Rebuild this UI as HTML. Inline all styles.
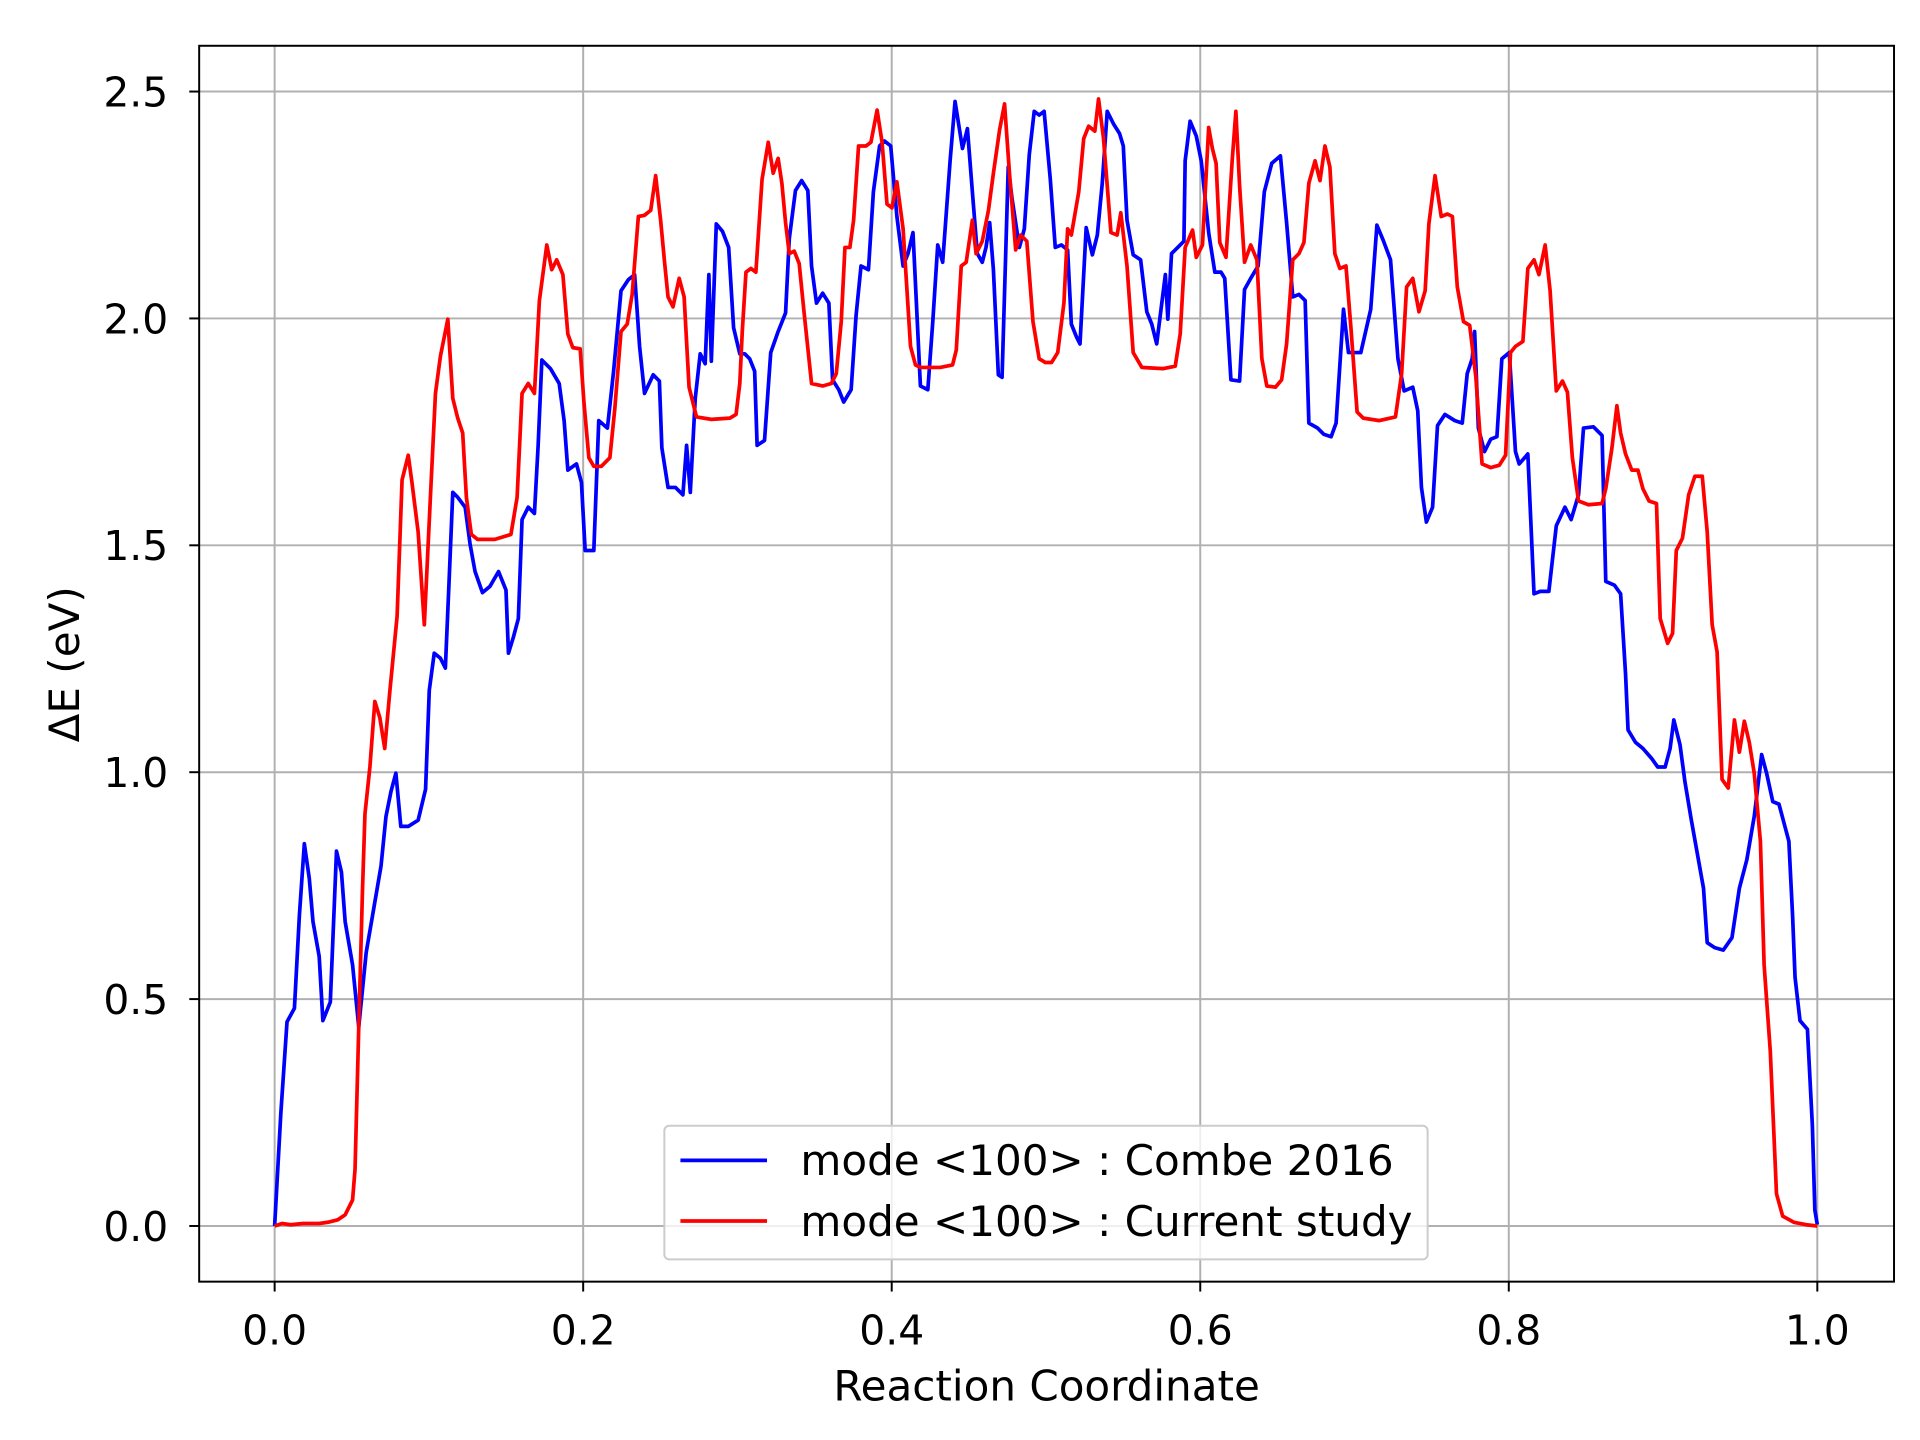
<!DOCTYPE html>
<html><head><meta charset="utf-8"><style>html,body{margin:0;padding:0;background:#fff}svg{display:block}</style></head>
<body>
<svg width="1920" height="1440" viewBox="0 0 1552 1164" xmlns="http://www.w3.org/2000/svg" font-family="DejaVu Sans, Liberation Sans, sans-serif">
<rect width="1552" height="1164" fill="#fff"/>
<g stroke="#b0b0b0" stroke-width="1.6">
<line x1="222" y1="37" x2="222" y2="1036"/><line x1="471.4" y1="37" x2="471.4" y2="1036"/><line x1="720.8" y1="37" x2="720.8" y2="1036"/><line x1="970.2" y1="37" x2="970.2" y2="1036"/><line x1="1219.6" y1="37" x2="1219.6" y2="1036"/><line x1="1469" y1="37" x2="1469" y2="1036"/>
<line x1="161" y1="991" x2="1531" y2="991"/><line x1="161" y1="807.6" x2="1531" y2="807.6"/><line x1="161" y1="624.2" x2="1531" y2="624.2"/><line x1="161" y1="440.8" x2="1531" y2="440.8"/><line x1="161" y1="257.4" x2="1531" y2="257.4"/><line x1="161" y1="74" x2="1531" y2="74"/>
</g>
<g fill="none" stroke-width="3" stroke-linejoin="round">
<polyline stroke="#0000ff" points="222,991 227,900 232,826 238,815 242,740 246,682 250,710 253,745 258,773 261,825 267,810 272,688 276,705 279,745 285,780 290,830 296,770 302,735 308,700 312,660 316,640 320,625 324,668 330,668 338,663 344,638 347,558 351,528 356,532 360,540 363,470 366,398 370,402 376,410 380,440 384,462 390,479 396,474 403,462 409,477 411,528 415,515 419,500 422,420 427,410 432,415 435,360 438,291 445,298 452,310 456,340 459,380 466,375 470,390 473,445 480,445 484,340 491,346 496,300 502,235 508,226 513,222 517,280 521,318 528,303 533,308 535,362 540,394 546,394 552,400 555,360 558,398 562,322 566,286 570,294 573,222 575,292 579,181 584,187 589,200 593,265 598,286 602,286 606,290 610,300 612,360 618,356 623,285 629,268 635,253 638,193 643,154 648,146 653,154 656,215 660,245 665,237 670,245 673,307 678,315 682,325 688,315 692,255 696,215 702,218 706,155 711,118 715,114 720,118 725,175 730,215 734,205 738,188 744,312 750,315 754,260 758,198 762,212 768,130 772,82 778,120 782,104 786,155 790,205 794,212 797,200 800,180 803,218 807,303 810,305 815,135 818,160 824,200 828,185 832,125 836,90 840,93 844,90 849,145 853,200 858,198 863,202 866,262 870,272 873,278 878,184 883,206 887,190 891,148 895,90 900,100 905,108 908,118 911,178 916,206 922,210 927,252 931,262 935,278 942,222 944,258 947,205 952,200 957,195 958,130 962,98 967,110 971,130 977,188 982,220 987,220 990,225 995,307 1002,308 1006,234 1011,225 1017,215 1022,155 1028,132 1035,126 1040,180 1045,240 1050,238 1055,243 1058,342 1065,346 1070,351 1076,353 1080,342 1086,250 1090,285 1095,285 1100,285 1108,250 1113,182 1118,194 1124,210 1130,290 1135,316 1142,313 1146,332 1149,394 1153,422 1158,410 1162,344 1168,335 1176,340 1182,342 1186,302 1190,290 1192,268 1195,346 1200,365 1205,355 1210,353 1214,290 1220,285 1225,365 1228,375 1235,367 1240,480 1245,478 1252,478 1258,425 1265,410 1270,420 1276,400 1280,346 1288,345 1295,352 1298,470 1305,473 1310,480 1314,545 1316,590 1322,600 1328,605 1335,613 1340,620 1346,620 1350,605 1353,582 1358,602 1362,632 1367,662 1372,690 1377,718 1380,762 1386,766 1393,768 1400,758 1406,718 1412,695 1418,660 1424,610 1428,625 1433,648 1438,650 1442,665 1446,680 1449,740 1451,790 1455,825 1461,832 1465,910 1467,978 1469,990"/>
<polyline stroke="#ff0000" points="222,991 228,989 235,990 245,989 258,989 265,988 273,986 279,982 285,970 287,945 290,830 293,720 295,658 299,620 303,567 307,580 311,605 315,560 321,498 325,388 330,368 333,390 338,430 343,505 348,400 352,318 356,288 362,258 366,322 370,338 374,350 377,402 381,432 386,436 400,436 413,432 418,402 422,318 427,310 432,318 436,243 442,198 446,218 450,210 455,222 459,270 463,281 469,282 472,325 476,370 480,377 486,377 493,370 497,330 502,268 507,262 511,238 516,175 521,174 526,170 530,142 534,178 537,210 540,240 544,248 549,225 553,240 557,313 563,337 575,339 590,338 595,335 598,310 600,268 603,220 607,217 611,220 616,145 621,115 625,140 629,128 632,148 635,180 638,205 642,203 646,213 650,253 656,310 665,312 672,310 676,302 680,260 683,200 687,200 690,178 694,118 700,118 704,115 709,89 713,115 717,165 721,168 725,147 730,185 736,280 740,295 744,297 760,297 770,295 773,283 777,215 781,212 786,178 789,205 794,195 799,170 803,140 808,105 812,84 816,140 821,202 825,190 830,195 835,260 840,290 845,293 850,293 855,285 860,245 863,185 866,190 872,155 876,112 880,102 885,106 888,80 892,112 898,188 903,190 906,172 911,215 916,285 923,297 940,298 950,296 954,270 958,200 964,186 967,208 972,198 977,103 980,120 983,132 986,196 991,208 996,130 999,90 1002,150 1006,212 1011,198 1016,210 1020,290 1024,312 1031,313 1036,307 1040,278 1045,210 1050,205 1054,196 1058,148 1063,130 1067,146 1071,118 1075,135 1079,205 1083,217 1088,215 1092,265 1097,333 1102,338 1115,340 1128,337 1133,302 1137,232 1142,225 1147,252 1152,235 1155,181 1160,142 1165,175 1170,173 1174,175 1178,232 1183,260 1188,263 1193,305 1198,375 1205,378 1212,376 1217,368 1221,285 1225,280 1231,276 1235,217 1240,210 1244,222 1249,198 1253,235 1258,316 1263,308 1267,317 1271,370 1276,405 1284,408 1295,407 1298,395 1303,362 1307,328 1310,350 1314,367 1319,380 1324,380 1328,395 1333,405 1339,407 1342,500 1348,520 1352,512 1355,445 1360,435 1365,400 1370,385 1376,385 1380,430 1384,505 1388,527 1392,630 1397,637 1402,582 1406,608 1410,583 1414,600 1418,625 1423,680 1426,780 1431,850 1436,965 1441,983 1450,988 1460,990 1469,991"/>
</g>
<rect x="161" y="37" width="1370" height="999" fill="none" stroke="#000" stroke-width="1.6"/>
<g stroke="#000" stroke-width="1.6">
<line x1="222" y1="1036" x2="222" y2="1044"/><line x1="471.4" y1="1036" x2="471.4" y2="1044"/><line x1="720.8" y1="1036" x2="720.8" y2="1044"/><line x1="970.2" y1="1036" x2="970.2" y2="1044"/><line x1="1219.6" y1="1036" x2="1219.6" y2="1044"/><line x1="1469" y1="1036" x2="1469" y2="1044"/>
<line x1="153" y1="991" x2="161" y2="991"/><line x1="153" y1="807.6" x2="161" y2="807.6"/><line x1="153" y1="624.2" x2="161" y2="624.2"/><line x1="153" y1="440.8" x2="161" y2="440.8"/><line x1="153" y1="257.4" x2="161" y2="257.4"/><line x1="153" y1="74" x2="161" y2="74"/>
</g>
<g font-size="33" fill="#000" text-anchor="middle">
<text x="222" y="1087">0.0</text><text x="471.4" y="1087">0.2</text><text x="720.8" y="1087">0.4</text><text x="970.2" y="1087">0.6</text><text x="1219.6" y="1087">0.8</text><text x="1469" y="1087">1.0</text>
</g>
<g font-size="33" fill="#000" text-anchor="end">
<text x="136" y="1003">0.0</text><text x="136" y="819.6">0.5</text><text x="136" y="636.2">1.0</text><text x="136" y="452.8">1.5</text><text x="136" y="269.4">2.0</text><text x="136" y="86">2.5</text>
</g>
<text x="846" y="1132" font-size="34" text-anchor="middle">Reaction Coordinate</text>
<text transform="translate(64,537) rotate(-90)" font-size="34" text-anchor="middle">ΔE (eV)</text>
<rect x="537" y="910" width="617" height="108" rx="4" fill="#fff" fill-opacity="0.8" stroke="#cccccc" stroke-width="1.6"/>
<line x1="550" y1="938" x2="620" y2="938" stroke="#0000ff" stroke-width="3"/>
<line x1="550" y1="987" x2="620" y2="987" stroke="#ff0000" stroke-width="3"/>
<text x="647" y="950" font-size="34">mode &lt;100&gt; : Combe 2016</text>
<text x="647" y="999" font-size="34">mode &lt;100&gt; : Current study</text>
</svg>
</body></html>
